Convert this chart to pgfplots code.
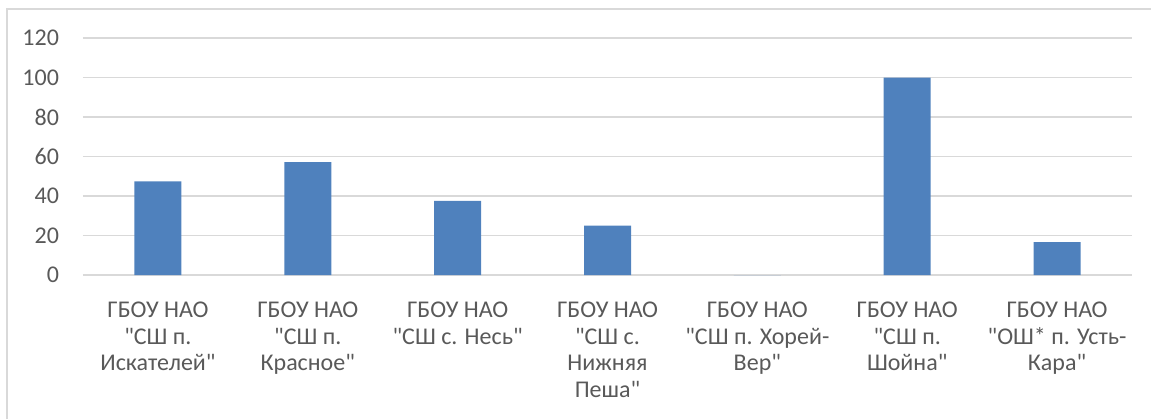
\documentclass[border=0pt]{standalone}
\usepackage{fontspec}
\setmainfont{Carlito}[Ligatures=TeXOff]
\usepackage{pgfplots}
\pgfplotsset{compat=1.18}
\definecolor{barblue}{HTML}{4F81BD}
\definecolor{gridgray}{HTML}{D9D9D9}
\definecolor{txtgray}{HTML}{595959}

\begin{document}
\begin{tikzpicture}
\useasboundingbox (-41.5pt,-72pt) rectangle (534pt,137.5pt);
\draw[gridgray, line width=0.8pt] (-38pt,-72pt) -- (-38pt,133pt) -- (534pt,133pt);
\begin{axis}[
    at={(0,0)}, anchor=south west,
    scale only axis,
    width=524.5pt,
    height=118.5pt,
    ybar,
    bar width=23.5pt,
    xmin=-0.5, xmax=6.5,
    ymin=0, ymax=120,
    ytick={0,20,...,120},
    xtick=data,
    xticklabels={
        {ГБОУ НАО\\"СШ п.\\Искателей"},
        {ГБОУ НАО\\"СШ п.\\Красное"},
        {ГБОУ НАО\\"СШ с. Несь"},
        {ГБОУ НАО\\"СШ с.\\Нижняя\\Пеша"},
        {ГБОУ НАО\\"СШ п. Хорей-\\Вер"},
        {ГБОУ НАО\\"СШ п.\\Шойна"},
        {ГБОУ НАО\\"ОШ* п. Усть-\\Кара"}},
    axis line style={draw=none},
    major tick length=0pt,
    ymajorgrids,
    grid style={gridgray, line width=0.8pt},
    /pgf/number format/assume math mode=true,
    tick label style={font=\fontsize{12}{13.3}\selectfont, text=txtgray},
    yticklabel style={xshift=-8.5pt},
    xticklabel style={align=center, anchor=north, yshift=-10pt},
]
\addplot[fill=barblue, draw=none] coordinates {
    (0,47.4) (1,57.1) (2,37.5) (3,25) (4,0) (5,100) (6,16.7)
};
\end{axis}
\end{tikzpicture}
\end{document}
